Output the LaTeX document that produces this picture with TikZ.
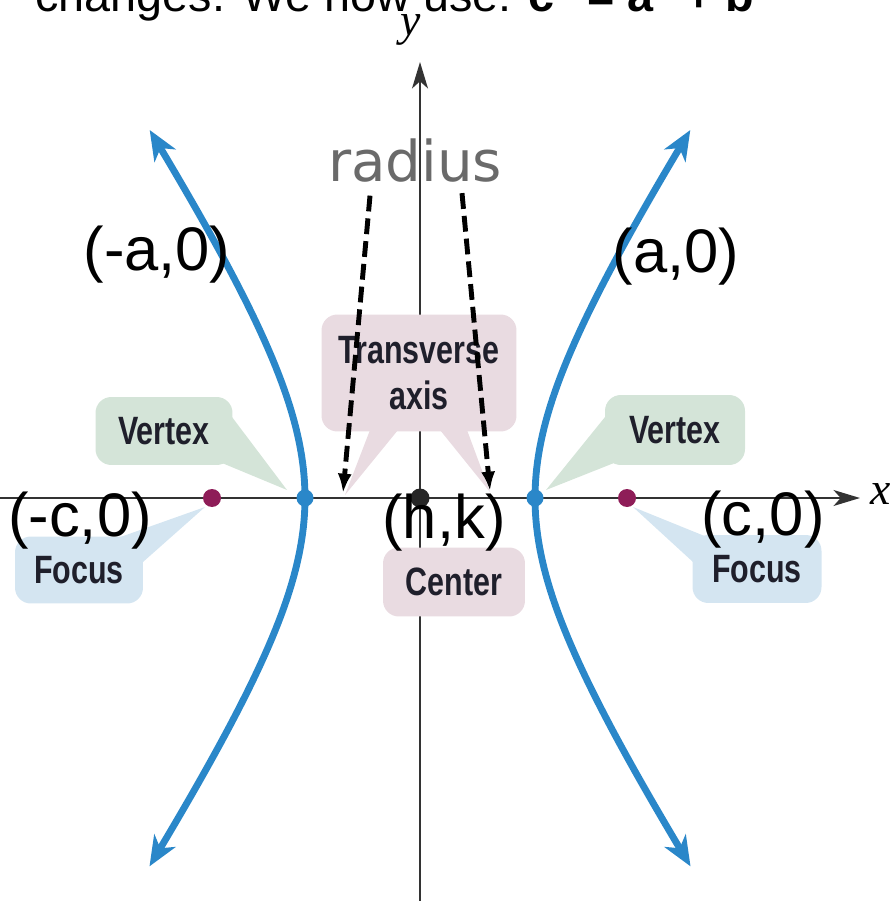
\documentclass[tikz,border=0pt]{standalone}
\usepackage{fontspec}
\setmainfont{Liberation Sans}
\newfontfamily\boxfont[FakeStretch=0.77]{Liberation Sans}
\newfontfamily\radiusfont{DejaVu Sans}
\newfontfamily\axisfont{Liberation Serif}
\usetikzlibrary{arrows.meta}

\definecolor{hypblue}{HTML}{2A87C9}
\definecolor{focusred}{HTML}{8E1D58}
\definecolor{vertexgreen}{HTML}{D4E4D8}
\definecolor{focusblue}{HTML}{D4E5F1}
\definecolor{centerpink}{HTML}{E9DBE1}
\definecolor{axisgray}{HTML}{333333}
\definecolor{boxtext}{HTML}{1F1F2B}
\definecolor{radiusgray}{HTML}{6A6A6A}

\tikzset{
  axis/.style={draw=axisgray, line width=1.6pt, -{Stealth[length=15pt, width=9pt, inset=4pt]}},
  hyp/.style={draw=hypblue, line width=3.9pt,
    {Stealth[length=17pt, width=14pt, inset=5pt]}-{Stealth[length=17pt, width=14pt, inset=5pt]}},
  callout/.style={fill=#1, rounded corners=9pt, inner sep=0pt, text=boxtext, align=center,
    font=\boxfont\bfseries\fontsize{22.5}{26.6}\selectfont},
  dot/.style={circle, fill=#1, inner sep=0pt},
  coordlabel/.style={anchor=base, inner sep=0pt, font=\fontsize{35}{42}\selectfont},
  axislabel/.style={inner sep=0pt, font=\axisfont\itshape\fontsize{26}{30}\selectfont},
  radiusarrow/.style={line width=2.8pt, dash pattern=on 9pt off 4pt, -{Latex[length=11pt, width=8pt]}}
}

\begin{document}
\begin{tikzpicture}[x=0.02cm, y=-0.02cm]
\useasboundingbox (0,0) rectangle (893,901);
\clip (0,0) rectangle (893,901);

% HEADING (cut at the top)
\node[anchor=base west, inner sep=0pt, font=\fontsize{26.6}{32}\selectfont] (head) at (35,12)
  {changes. We now use: \textbf{c\textsuperscript{2} = a\textsuperscript{2} + b\textsuperscript{2}}};

% AXES
\coordinate (xl) at (0,498);
\coordinate (xr) at (860,498);
\coordinate (yb) at (420,901);
\coordinate (yt) at (420,62);
\draw[axis] (xl) -- (xr);
\draw[axis] (yb) -- (yt);
\node[axislabel] (xlab) at (881,494) {x};
\node[axislabel] (ylab) at (411,30) {y};

% CALLOUT TAILS
\fill[vertexgreen] (232,417) -- (287,490) -- (222,463) -- cycle;
\fill[vertexgreen] (605,417) -- (546,490) -- (614,463) -- cycle;
\fill[focusblue] (112,540) -- (205,507) -- (143,562) -- cycle;
\fill[focusblue] (707,537) -- (633,507) -- (693,562) -- cycle;
\fill[centerpink] (370,430) -- (345,495) -- (398,430) -- cycle;
\fill[centerpink] (440,430) -- (490,492) -- (467,430) -- cycle;

% CALLOUT BOXES
\node[callout=vertexgreen, minimum width=2.74cm, minimum height=1.36cm] (lvbox) at (164,431) {Vertex};
\node[callout=vertexgreen, minimum width=2.8cm, minimum height=1.4cm] (rvbox) at (675,430) {Vertex};
\node[callout=focusblue, minimum width=2.56cm, minimum height=1.34cm] (lfbox) at (79,570) {Focus};
\node[callout=focusblue, minimum width=2.58cm, minimum height=1.36cm] (rfbox) at (757,569) {Focus};
\node[callout=centerpink, minimum width=2.84cm, minimum height=1.38cm] (cbox) at (454,582) {Center};
\node[callout=centerpink, minimum width=3.9cm, minimum height=2.34cm] (tbox) at (419,373) {Transverse\\axis};

% HYPERBOLA
\draw[hyp] plot[domain=-1.5:1.5, samples=80, variable=\t] ({420-115*cosh(\t)},{498-173*sinh(\t)});
\draw[hyp] plot[domain=-1.5:1.5, samples=80, variable=\t] ({420+115*cosh(\t)},{498-173*sinh(\t)});

% POINTS
\node[dot=focusred, minimum size=0.36cm] (lf) at (212,498) {};
\node[dot=focusred, minimum size=0.36cm] (rf) at (627,498) {};
\node[dot=hypblue, minimum size=0.34cm] (lv) at (305,498) {};
\node[dot=hypblue, minimum size=0.34cm] (rv) at (535,498) {};
\node[dot=black!85, minimum size=0.38cm] (ctr) at (420,498) {};

% RADIUS
\node[anchor=base, inner sep=0pt, text=radiusgray, font=\radiusfont\fontsize{32}{38}\selectfont] (radius) at (415,182) {radius};
\coordinate (tvl) at (343,493);
\coordinate (tvr) at (490,491);
\draw[radiusarrow] ([xshift=-0.9cm, yshift=-0.25cm]radius.south) -- (tvl);
\draw[radiusarrow] ([xshift=0.94cm, yshift=-0.2cm]radius.south) -- (tvr);

% COORDINATE LABELS
\node[coordlabel] (lalab) at (157,271) {(-a,0)};
\node[coordlabel] (ralab) at (676,273) {(a,0)};
\node[coordlabel] (lclab) at (80,536) {(-c,0)};
\node[coordlabel] (rclab) at (763,535) {(c,0)};
\node[coordlabel] (hklab) at (444,538) {(h,k)};
\end{tikzpicture}
\end{document}
